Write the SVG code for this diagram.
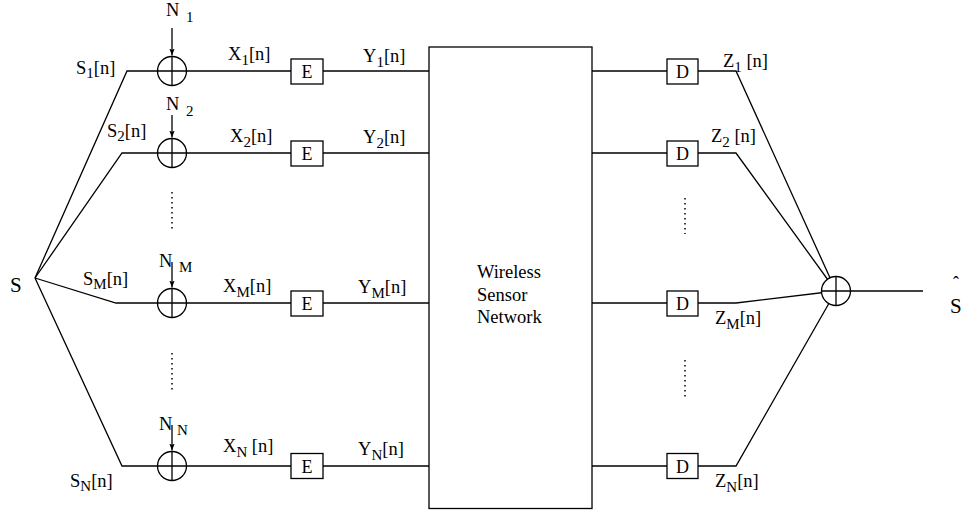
<svg xmlns="http://www.w3.org/2000/svg" width="966" height="510" viewBox="0 0 966 510">
<style>
  .ln{fill:none;stroke:#000;stroke-width:1.3}
  .dot{fill:none;stroke:#000;stroke-width:1.5;stroke-dasharray:1.5 3.5}
  .box{fill:#fff;stroke:#000;stroke-width:1.3}
  .ad{fill:#fff;stroke:#000;stroke-width:1.3}
  .t{font-family:"Liberation Serif","Times New Roman",serif;font-size:18.5px;fill:#000}
  .big{font-size:21px}
  .hat{font-size:18px}
  .sub{font-size:15px}
  .bx{text-anchor:middle;font-size:18px}
</style>
<defs>
  <marker id="ah" markerUnits="userSpaceOnUse" markerWidth="8" markerHeight="8" refX="7" refY="3" orient="auto">
    <path d="M0,0.3 L7,3 L0,5.7 L1.5,3 z" fill="#000"/>
  </marker>
</defs>
<g id="connectors">
  <polyline class="ln" points="35,278 127,71 291,71"/>
  <polyline class="ln" points="35,278 122,153 291,153"/>
  <polyline class="ln" points="35,278 116,303 291,303"/>
  <polyline class="ln" points="35,278 122,466 291,466"/>
  <line class="ln" x1="323" y1="71" x2="429" y2="71"/>
  <line class="ln" x1="323" y1="153" x2="429" y2="153"/>
  <line class="ln" x1="323" y1="303" x2="429" y2="303"/>
  <line class="ln" x1="323" y1="466" x2="429" y2="466"/>
  <line class="ln" x1="592" y1="71" x2="667" y2="71"/>
  <line class="ln" x1="592" y1="153" x2="667" y2="153"/>
  <line class="ln" x1="592" y1="303" x2="667" y2="303"/>
  <line class="ln" x1="592" y1="466" x2="667" y2="466"/>
  <polyline class="ln" points="698,71 736,71 836,291"/>
  <polyline class="ln" points="698,153 736,153 836,291"/>
  <polyline class="ln" points="698,303 736,303 836,291"/>
  <polyline class="ln" points="698,466 736,466 836,291"/>
  <line class="ln" x1="850" y1="291" x2="923" y2="291"/>
  <line class="ln" x1="172" y1="28" x2="172" y2="55.5" marker-end="url(#ah)"/>
  <line class="ln" x1="172" y1="115" x2="172" y2="137.5" marker-end="url(#ah)"/>
  <line class="ln" x1="172" y1="262" x2="172" y2="287.5" marker-end="url(#ah)"/>
  <line class="ln" x1="172" y1="425" x2="172" y2="450.5" marker-end="url(#ah)"/>
  <line class="dot" x1="172" y1="192" x2="172" y2="229"/>
  <line class="dot" x1="172" y1="353" x2="172" y2="390"/>
  <line class="dot" x1="685" y1="198" x2="685" y2="234"/>
  <line class="dot" x1="685" y1="360" x2="685" y2="397"/>
</g>
<g id="source">
  <text class="t big" x="10" y="292">S</text>
</g>
<g id="labels-s">
  <text class="t" x="76" y="74">S<tspan class="sub" dy="4">1</tspan><tspan dy="-4">[n]</tspan></text>
  <text class="t" x="107" y="137">S<tspan class="sub" dy="4">2</tspan><tspan dy="-4">[n]</tspan></text>
  <text class="t" x="83" y="285">S<tspan class="sub" dy="4">M</tspan><tspan dy="-4">[n]</tspan></text>
  <text class="t" x="70" y="487">S<tspan class="sub" dy="4">N</tspan><tspan dy="-4">[n]</tspan></text>
</g>
<g id="adder1">
  <circle class="ad" cx="172" cy="71" r="14.5"/>
  <path class="ln" d="M157.5,71 H186.5 M172,56.5 V85.5"/>
  <text class="t" x="166" y="16">N<tspan class="sub" x="186" y="22">1</tspan></text>
</g>
<g id="adder2">
  <circle class="ad" cx="172" cy="153" r="14.5"/>
  <path class="ln" d="M157.5,153 H186.5 M172,138.5 V167.5"/>
  <text class="t" x="166" y="110">N<tspan class="sub" x="186" y="116">2</tspan></text>
</g>
<g id="adderM">
  <circle class="ad" cx="172" cy="303" r="14.5"/>
  <path class="ln" d="M157.5,303 H186.5 M172,288.5 V317.5"/>
  <text class="t" x="159" y="267">N<tspan class="sub" x="179" y="272">M</tspan></text>
</g>
<g id="adderN">
  <circle class="ad" cx="172" cy="466" r="14.5"/>
  <path class="ln" d="M157.5,466 H186.5 M172,451.5 V480.5"/>
  <text class="t" x="159" y="430">N<tspan class="sub" x="177" y="435">N</tspan></text>
</g>
<g id="labels-x">
  <text class="t" x="228" y="60">X<tspan class="sub" dy="5">1</tspan><tspan dy="-5">[n]</tspan></text>
  <text class="t" x="230" y="142">X<tspan class="sub" dy="5">2</tspan><tspan dy="-5">[n]</tspan></text>
  <text class="t" x="223" y="292">X<tspan class="sub" dy="5">M</tspan><tspan dy="-5">[n]</tspan></text>
  <text class="t" x="223" y="452">X<tspan class="sub" dy="5">N</tspan><tspan dy="-5"> [n]</tspan></text>
</g>
<g id="enc1"><rect class="box" x="291" y="59" width="32" height="25"/><text class="t bx" x="307" y="78">E</text></g>
<g id="enc2"><rect class="box" x="291" y="141" width="32" height="25"/><text class="t bx" x="307" y="160">E</text></g>
<g id="encM"><rect class="box" x="291" y="291" width="32" height="25"/><text class="t bx" x="307" y="310">E</text></g>
<g id="encN"><rect class="box" x="291" y="453.5" width="32" height="25"/><text class="t bx" x="307" y="472.5">E</text></g>
<g id="labels-y">
  <text class="t" x="363" y="62">Y<tspan class="sub" dy="5">1</tspan><tspan dy="-5">[n]</tspan></text>
  <text class="t" x="363" y="143">Y<tspan class="sub" dy="5">2</tspan><tspan dy="-5">[n]</tspan></text>
  <text class="t" x="358" y="293">Y<tspan class="sub" dy="5">M</tspan><tspan dy="-5">[n]</tspan></text>
  <text class="t" x="358" y="455">Y<tspan class="sub" dy="5">N</tspan><tspan dy="-5">[n]</tspan></text>
</g>
<g id="wsn">
  <rect class="box" x="429" y="47" width="163" height="461.5"/>
  <text class="t" x="477" y="278">Wireless</text>
  <text class="t" x="477" y="301">Sensor</text>
  <text class="t" x="477" y="323">Network</text>
</g>
<g id="dec1"><rect class="box" x="667" y="59" width="31" height="25"/><text class="t bx" x="682.5" y="78">D</text></g>
<g id="dec2"><rect class="box" x="667" y="141" width="31" height="25"/><text class="t bx" x="682.5" y="160">D</text></g>
<g id="decM"><rect class="box" x="667" y="291" width="31" height="25"/><text class="t bx" x="682.5" y="310">D</text></g>
<g id="decN"><rect class="box" x="667" y="453.5" width="31" height="25"/><text class="t bx" x="682.5" y="472.5">D</text></g>
<g id="labels-z">
  <text class="t" x="723" y="67">Z<tspan class="sub" dy="5">1</tspan><tspan dy="-5"> [n]</tspan></text>
  <text class="t" x="711" y="142">Z<tspan class="sub" dy="5">2</tspan><tspan dy="-5"> [n]</tspan></text>
  <text class="t" x="715" y="324">Z<tspan class="sub" dy="5">M</tspan><tspan dy="-5">[n]</tspan></text>
  <text class="t" x="715" y="487">Z<tspan class="sub" dy="5">N</tspan><tspan dy="-5">[n]</tspan></text>
</g>
<g id="sum">
  <circle class="ad" cx="836" cy="291" r="14.5"/>
  <path class="ln" d="M821.5,291 H850.5 M836,276.5 V305.5"/>
</g>
<g id="output">
  <text class="t big" x="950" y="313">S</text>
  <text class="t hat" x="953" y="289">ˆ</text>
</g>
</svg>
